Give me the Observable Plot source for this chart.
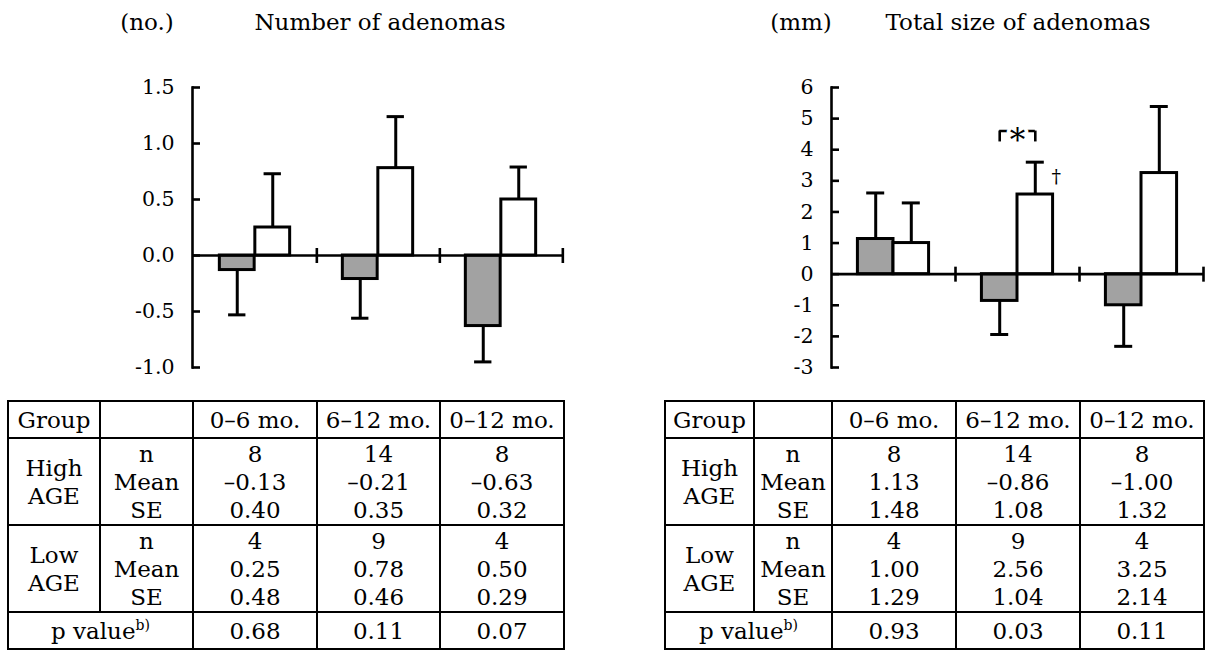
<!DOCTYPE html>
<html><head><meta charset="utf-8">
<script src="https://cdn.jsdelivr.net/npm/d3@7"></script>
<script src="https://cdn.jsdelivr.net/npm/@observablehq/plot@0.6"></script>
<style>
body{margin:0;background:#fff;}
#root{position:relative;width:1207px;height:651px;overflow:hidden;font-family:"DejaVu Serif",serif;color:#000;background:#fff;}
.ttl{position:absolute;top:11px;font-size:23px;line-height:1;white-space:nowrap;transform:translateX(-50%);}
.panel{position:absolute;top:0;}
table{position:absolute;border-collapse:collapse;table-layout:fixed;font-family:"DejaVu Serif",serif;font-size:23px;color:#000;}
td{border:2px solid #000;padding:0;text-align:center;vertical-align:middle;line-height:28px;white-space:nowrap;overflow:visible;}
sup{font-size:14px;line-height:0;vertical-align:9px;}
</style></head>
<body><div id="root"></div>
<script>
// ---------- data ----------
const periods = ["0–6 mo.", "6–12 mo.", "0–12 mo."];
const ageGroups = ["High<br>AGE", "Low<br>AGE"];
const statLabels = ["n", "Mean", "SE"];
const groupHeader = "Group";
const pLabel = "p value";
const pNote = "b)";

const numberTitle = "Number of adenomas";
const numberUnit = "(no.)";
const numberTicks = [-1, -0.5, 0, 0.5, 1, 1.5];
const numberHighN = [8, 14, 8];
const numberHighMean = [-0.13, -0.21, -0.63];
const numberHighSE = [0.40, 0.35, 0.32];
const numberLowN = [4, 9, 4];
const numberLowMean = [0.25, 0.78, 0.50];
const numberLowSE = [0.48, 0.46, 0.29];
const numberP = [0.68, 0.11, 0.07];

const sizeTitle = "Total size of adenomas";
const sizeUnit = "(mm)";
const sizeTicks = [-3, -2, -1, 0, 1, 2, 3, 4, 5, 6];
const sizeHighN = [8, 14, 8];
const sizeHighMean = [1.13, -0.86, -1.00];
const sizeHighSE = [1.48, 1.08, 1.32];
const sizeLowN = [4, 9, 4];
const sizeLowMean = [1.00, 2.56, 3.25];
const sizeLowSE = [1.29, 1.04, 2.14];
const sizeP = [0.93, 0.03, 0.11];
const sizeStarPeriods = ["6–12 mo."];    // * between High and Low AGE
const sizeDaggerPeriods = ["6–12 mo."];  // † on Low AGE

// ---------- helpers ----------
const root = document.getElementById("root");
const GRAY = "#a2a2a2";
const SW = 3, AXW = 2.6;

function buildPanel(cfg) {
  const {left, width, height, marginLeft, marginRight, marginTop, marginBottom,
         domain, ticks, tickFormat, high, low, star = [], dagger = []} = cfg;
  const innerW = width - marginLeft - marginRight;
  const B = innerW / periods.length;
  const outer = 0.213, mid = 0.5;
  const rows = s => periods.map((p, i) => ({period: p, mean: s.mean[i], se: s.se[i]}));
  const hi = rows(high), lo = rows(low);
  const tip = d => d.mean + Math.sign(d.mean) * d.se;
  const cg = (outer + mid) / 2 * B, cw = (mid + 1 - outer) / 2 * B;
  const cap = 9;
  const series = [
    {data: hi, fill: GRAY, l: outer * B, r: mid * B, c: cg},
    {data: lo, fill: "#fff", l: mid * B, r: outer * B, c: cw}
  ];
  const vline = {draw(ctx) { ctx.moveTo(0, -7.5); ctx.lineTo(0, 7.5); }};
  const marks = [];
  for (const s of series) {
    marks.push(
      Plot.ruleX(s.data, {x: "period", y1: "mean", y2: tip, dx: s.c - B / 2, stroke: "#000", strokeWidth: SW}),
      Plot.tickY(s.data, {x: "period", y: tip, insetLeft: s.c - cap, insetRight: B - s.c - cap, stroke: "#000", strokeWidth: SW}),
      Plot.barY(s.data, {x: "period", y: "mean", insetLeft: s.l, insetRight: s.r, fill: s.fill, stroke: "#000", strokeWidth: SW})
    );
  }
  marks.push(
    Plot.ruleY([0], {stroke: "#000", strokeWidth: AXW}),
    Plot.frame({anchor: "left", stroke: "#000", strokeWidth: AXW}),
    Plot.tickY(ticks, {y: d => d, insetRight: innerW - 8, stroke: "#000", strokeWidth: AXW}),
    Plot.dot(periods, {x: d => d, y: () => 0, dx: B / 2, symbol: vline, r: 5, fill: "none", stroke: "#000", strokeWidth: AXW}),
    Plot.axisY(ticks, {tickSize: 0, tickPadding: 18, tickFormat, fontSize: 20.5, label: null})
  );
  if (star.length) {
    const starRows = star.map(p => {
      const top = Math.max(tip(hi.find(r => r.period === p)), tip(lo.find(r => r.period === p)));
      return {period: p, level: top + 1.0, foot: top + 0.65};
    });
    marks.push(
      Plot.tickY(starRows, {x: "period", y: "level", insetLeft: cg, insetRight: B - cw, stroke: "#000", strokeWidth: AXW}),
      Plot.ruleX(starRows, {x: "period", y1: "foot", y2: "level", dx: cg - B / 2, stroke: "#000", strokeWidth: AXW}),
      Plot.ruleX(starRows, {x: "period", y1: "foot", y2: "level", dx: cw - B / 2, stroke: "#000", strokeWidth: AXW}),
      Plot.text(starRows, {x: "period", y: "level", text: () => "*", fontSize: 31, fill: "#000", stroke: "#fff", strokeWidth: 7, dy: 10})
    );
  }
  if (dagger.length) {
    const dRows = lo.filter(r => dagger.includes(r.period));
    marks.push(Plot.text(dRows, {x: "period", y: tip, text: () => "†", dx: cw - B / 2 + 21, dy: 15, fontSize: 19, fill: "#000"}));
  }
  const svg = Plot.plot({
    width, height, marginLeft, marginRight, marginTop, marginBottom,
    style: {fontFamily: '"DejaVu Serif", serif', fontSize: "20px", color: "#000", background: "transparent", overflow: "visible"},
    x: {domain: periods, padding: 0, axis: null},
    y: {domain, label: null},
    marks
  });
  svg.classList.add("panel");
  svg.style.left = left + "px";
  svg.style.position = "absolute";
  svg.style.top = "0px";
  root.appendChild(svg);
}

function addTitle(text, cx) {
  const d = document.createElement("div");
  d.className = "ttl";
  d.textContent = text;
  d.style.left = cx + "px";
  root.appendChild(d);
}

const fmtMean = v => v.toFixed(2).replace("-", "–");

function buildTable(left, top, colW, hi, lo, p) {
  const t = document.createElement("table");
  t.style.left = left + "px";
  t.style.top = top + "px";
  t.style.width = colW.reduce((a, b) => a + b, 0) + "px";
  const cols = colW.map(w => `<col style="width:${w}px">`).join("");
  const block = (label, s) => `<tr style="height:87px"><td>${label}</td><td>${statLabels.join("<br>")}</td>` +
    periods.map((_, i) => `<td>${s.n[i]}<br>${fmtMean(s.mean[i])}<br>${s.se[i].toFixed(2)}</td>`).join("") + `</tr>`;
  t.innerHTML = `<colgroup>${cols}</colgroup>` +
    `<tr style="height:37px"><td>${groupHeader}</td><td></td>${periods.map(q => `<td>${q}</td>`).join("")}</tr>` +
    block(ageGroups[0], hi) + block(ageGroups[1], lo) +
    `<tr style="height:37px"><td colspan="2">${pLabel}<sup>${pNote}</sup></td>${p.map(v => `<td>${v.toFixed(2)}</td>`).join("")}</tr>`;
  root.appendChild(t);
}

// ---------- left: number of adenomas ----------
buildPanel({
  left: 0, width: 600, height: 380, marginLeft: 192, marginRight: 37, marginTop: 87, marginBottom: 13,
  domain: [-1, 1.5], ticks: numberTicks, tickFormat: d => d.toFixed(1),
  high: {mean: numberHighMean, se: numberHighSE},
  low: {mean: numberLowMean, se: numberLowSE}
});
addTitle(numberUnit, 147);
addTitle(numberTitle, 380);
buildTable(7, 400, [92, 93, 124, 123, 124],
  {n: numberHighN, mean: numberHighMean, se: numberHighSE},
  {n: numberLowN, mean: numberLowMean, se: numberLowSE}, numberP);

// ---------- right: total size of adenomas ----------
buildPanel({
  left: 620, width: 587, height: 380, marginLeft: 211, marginRight: 4, marginTop: 87, marginBottom: 13,
  domain: [-3, 6], ticks: sizeTicks, tickFormat: d => String(d),
  high: {mean: sizeHighMean, se: sizeHighSE},
  low: {mean: sizeLowMean, se: sizeLowSE},
  star: sizeStarPeriods, dagger: sizeDaggerPeriods
});
addTitle(sizeUnit, 801);
addTitle(sizeTitle, 1018);
buildTable(664, 400, [89, 78, 124, 124, 124],
  {n: sizeHighN, mean: sizeHighMean, se: sizeHighSE},
  {n: sizeLowN, mean: sizeLowMean, se: sizeLowSE}, sizeP);
</script>
</body></html>
